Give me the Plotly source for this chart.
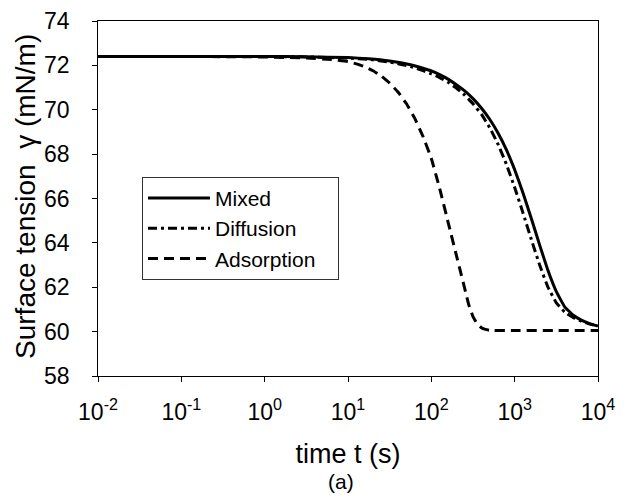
import plotly.graph_objects as go

# log10(time) grid and readings of surface tension (mN/m)
log_t = [-2, -1, 0, 0.5, 1.0, 1.25, 1.5, 1.75, 1.9, 2.0, 2.1, 2.2, 2.3, 2.4, 2.5,
         2.6, 2.7, 2.8, 2.9, 3.0, 3.1, 3.2, 3.3, 3.4, 3.5, 3.6, 3.7, 3.8, 3.9, 4.0]
mixed = [72.4, 72.4, 72.4, 72.39, 72.35, 72.3, 72.2, 72.03, 71.87, 71.75, 71.58,
         71.38, 71.13, 70.85, 70.5, 70.08, 69.57, 68.95, 68.2, 67.3, 66.25, 65.1,
         63.9, 62.75, 61.8, 61.12, 60.75, 60.52, 60.36, 60.25]
diffusion = [72.4, 72.4, 72.4, 72.38, 72.33, 72.27, 72.15, 71.95, 71.76, 71.62,
             71.45, 71.24, 70.98, 70.66, 70.27, 69.8, 69.2, 68.45, 67.55, 66.5,
             65.35, 64.15, 63.0, 62.0, 61.3, 60.88, 60.64, 60.47, 60.34, 60.25]

log_t_ads = [-2, -1, 0, 0.5, 0.8, 1.0, 1.1, 1.2, 1.3, 1.4, 1.5, 1.6, 1.7, 1.8,
             1.9, 2.0, 2.1, 2.2, 2.3, 2.35, 2.4, 2.45, 2.5, 2.55, 2.6, 2.65,
             2.7, 3.0, 3.5, 4.0]
adsorption = [72.4, 72.4, 72.38, 72.33, 72.26, 72.17, 72.07, 71.94, 71.76, 71.52,
              71.2, 70.8, 70.28, 69.62, 68.8, 67.8, 66.45, 64.95, 63.45, 62.7,
              61.95, 61.2, 60.68, 60.36, 60.18, 60.1, 60.06, 60.05, 60.05, 60.05]

x_tickvals = [1e-2, 1e-1, 1e0, 1e1, 1e2, 1e3, 1e4]
x_ticktext = ["10<sup>-2</sup>", "10<sup>-1</sup>", "10<sup>0</sup>", "10<sup>1</sup>",
              "10<sup>2</sup>", "10<sup>3</sup>", "10<sup>4</sup>"]
y_tickvals = [58, 60, 62, 64, 66, 68, 70, 72, 74]
y_ticktext = [str(v) for v in y_tickvals]

t_main = [10 ** v for v in log_t]
t_ads = [10 ** v for v in log_t_ads]

FONT = "Liberation Sans, Arial, sans-serif"

fig = go.Figure()
fig.add_trace(go.Scatter(x=t_main, y=mixed, mode="lines", name="Mixed",
                         line=dict(color="black", width=3, shape="spline", smoothing=0.3)))
fig.add_trace(go.Scatter(x=t_main, y=diffusion, mode="lines", name="Diffusion",
                         line=dict(color="black", width=3, dash="9px,4px,3px,4px",
                                   shape="spline", smoothing=0.3)))
fig.add_trace(go.Scatter(x=t_ads, y=adsorption, mode="lines",
                         name="Adsorption\u00a0\u00a0\u00a0",
                         line=dict(color="black", width=3, dash="10px,6px",
                                   shape="spline", smoothing=0.3)))

# y tick labels placed as text further from the axis, as in the reference
y_label_annotations = [
    dict(text=lbl, x=-0.052, y=val, xref="paper", yref="y", xanchor="right",
         yanchor="middle", showarrow=False, font=dict(size=23, family=FONT))
    for val, lbl in zip(y_tickvals, y_ticktext)
]

fig.update_layout(
    width=627, height=501,
    margin=dict(l=98, r=25, t=21, b=125),
    paper_bgcolor="white", plot_bgcolor="white",
    font=dict(family=FONT, color="black"),
    showlegend=True,
    legend=dict(x=0.088, y=0.561, xanchor="left", yanchor="top",
                bgcolor="white", bordercolor="#333", borderwidth=1,
                font=dict(size=21, family=FONT), itemwidth=62,
                tracegroupgap=0),
    xaxis=dict(type="log", range=[-2, 4], tickvals=x_tickvals, ticktext=x_ticktext,
               showgrid=False, zeroline=False, showline=True, linecolor="black",
               linewidth=1, mirror=True, ticks="outside", ticklen=5, tickcolor="black",
               tickfont=dict(size=23, family=FONT), ticklabelstandoff=10,
               title=dict(text="time t (s)", font=dict(size=27, family=FONT), standoff=20)),
    yaxis=dict(range=[58, 74], tickvals=y_tickvals, showticklabels=False,
               showgrid=False, zeroline=False, showline=True, linecolor="black",
               linewidth=1, mirror=True, ticks="outside", ticklen=5, tickcolor="black"),
    annotations=y_label_annotations + [
        dict(text="Surface tension  γ (mN/m)", x=-0.1448, y=0.506, xref="paper",
             yref="paper", xanchor="center", yanchor="middle", textangle=-90,
             showarrow=False, font=dict(size=28, family=FONT)),
        dict(text="(a)", x=0.485, y=-0.26, xref="paper", yref="paper",
             xanchor="center", yanchor="top", showarrow=False,
             font=dict(size=21, family=FONT)),
    ],
)

fig.write_html("out.html")
